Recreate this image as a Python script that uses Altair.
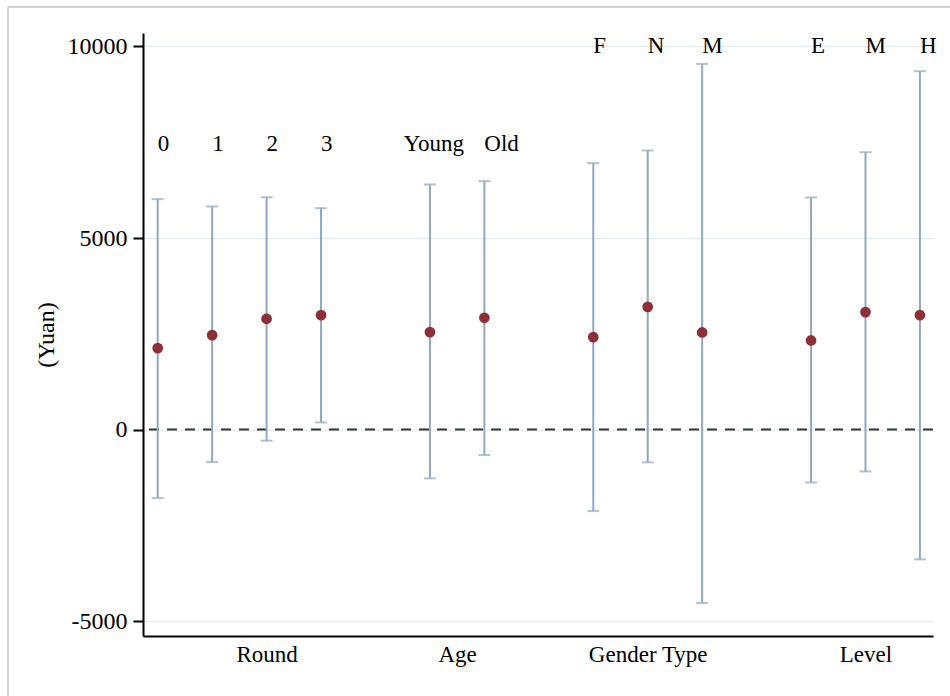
import altair as alt
import pandas as pd

# ---- data ----
categories = ["0", "1", "2", "3", "Young", "Old", "F", "N", "M", "E", "M", "H"]
positions = [0, 1, 2, 3, 5, 6, 8, 9, 10, 12, 13, 14]
label_x = [0, 1, 2, 3, 4.52, 6, 8, 9, 10, 12, 13, 14]
label_y = [7450, 7450, 7450, 7450, 7450, 7450, 10000, 10000, 10000, 10000, 10000, 10000]
means = [2126, 2465, 2891, 2987, 2544, 2917, 2413, 3204, 2536, 2327, 3066, 2987]
lower = [-1787, -848, -292, 188, -1273, -665, -2126, -856, -4527, -1378, -1091, -3386]
upper = [6014, 5823, 6066, 5779, 6397, 6483, 6953, 7284, 9544, 6058, 7240, 9353]

group_names = ["Round", "Age", "Gender Type", "Level"]
group_pos = [2, 5.5, 9, 13]
y_ticks = [-5000, 0, 5000, 10000]

df = pd.DataFrame({
    "cat": categories, "pos": positions, "lx": label_x, "ly": label_y,
    "mean": means, "lo": lower, "hi": upper,
})

FONT = "Liberation Serif"
FS = 23

label_expr = " : ".join(
    f"datum.value == {p} ? '{n}'" for p, n in zip(group_pos, group_names)
) + " : ''"

x_scale = alt.Scale(domain=[-0.27, 14.24], nice=False, zero=False)
x_axis = alt.Axis(values=group_pos, labelExpr=label_expr, ticks=False, grid=False,
                  title=None, domainColor="black", domainWidth=2,
                  labelFont=FONT, labelFontSize=FS, labelColor="black",
                  labelPadding=7, labelFlush=False, labelOverlap=False)
y_scale = alt.Scale(domain=[-5386, 10350], nice=False, zero=False)
y_axis = alt.Axis(values=y_ticks, labelExpr="'' + datum.value", title="(Yuan)",
                  grid=True, gridColor="#e4eef0", gridWidth=1.5,
                  domainColor="black", domainWidth=2, tickColor="black",
                  tickWidth=2, tickSize=10, labelPadding=6,
                  labelFont=FONT, labelFontSize=24, labelColor="black",
                  titleFont=FONT, titleFontSize=24, titleFontWeight="normal",
                  titleColor="black", titlePadding=9, labelFlush=False)

base = alt.Chart(df)
X = alt.X("pos:Q", scale=x_scale, axis=x_axis)

bars = base.mark_rule(color="#90a8c0", strokeWidth=2).encode(
    x=X, y=alt.Y("lo:Q", scale=y_scale, axis=y_axis), y2="hi:Q")
caps_hi = base.mark_tick(color="#90a8c0", orient="horizontal", size=12, thickness=2).encode(
    x=X, y=alt.Y("hi:Q", scale=y_scale, axis=y_axis))
caps_lo = base.mark_tick(color="#90a8c0", orient="horizontal", size=12, thickness=2).encode(
    x=X, y=alt.Y("lo:Q", scale=y_scale, axis=y_axis))

zero = alt.Chart(pd.DataFrame({"z": [0]})).mark_rule(
    color="#333333", strokeWidth=2, strokeDash=[10, 8]).encode(
    y=alt.Y("z:Q", scale=y_scale, axis=y_axis))

points = base.mark_point(filled=True, shape="circle", size=115, color="#8e2f38", opacity=1).encode(
    x=X, y=alt.Y("mean:Q", scale=y_scale, axis=y_axis))

labels = base.mark_text(font=FONT, fontSize=FS, color="black", align="left",
                        baseline="middle").encode(
    x=alt.X("lx:Q", scale=x_scale, axis=x_axis),
    y=alt.Y("ly:Q", scale=y_scale, axis=y_axis),
    text="cat:N")

frame = alt.Chart(pd.DataFrame({"a": [0]}))
frame_left = frame.mark_rule(color="#d2d2d2", strokeWidth=2, clip=False).encode(
    x=alt.value(-135), y=alt.value(-26), y2=alt.value(670))
frame_top = frame.mark_rule(color="#d2d2d2", strokeWidth=2, clip=False).encode(
    x=alt.value(-135), x2=alt.value(820), y=alt.value(-26))

chart = alt.layer(zero, bars, caps_hi, caps_lo, points, labels, frame_left, frame_top).properties(
    width=790, height=603,
    autosize=alt.AutoSizeParams(type="none"),
    padding={"left": 143, "top": 33, "right": 17, "bottom": 60},
    background="white",
).configure_view(stroke=None)

chart.save("out.html", embed_options={"renderer": "svg", "actions": False})
